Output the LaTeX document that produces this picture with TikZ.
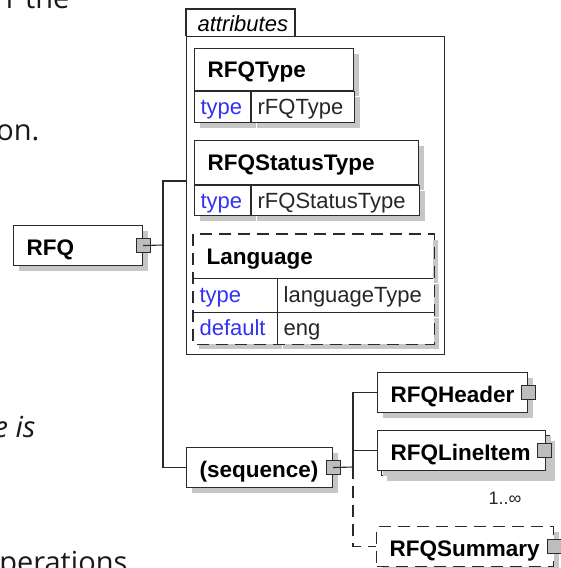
\documentclass[tikz,border=0pt]{standalone}
\usepackage{fontspec}
\setmainfont{Liberation Sans}
\newfontfamily\docfont{Open Sans}
\usetikzlibrary{positioning,shadows}
\definecolor{edge}{HTML}{2A2A2A}
\definecolor{shade}{HTML}{C6C6C6}
\definecolor{boxgray}{HTML}{BDBDBD}
\definecolor{keyblue}{HTML}{3232F0}

\begin{document}
\begin{tikzpicture}[x=1pt,y=-1pt,line width=1.1pt,
 shd/.style={drop shadow={shadow xshift=5pt,shadow yshift=-5pt,fill=shade,opacity=1}},
 el/.style={draw=edge,fill=white,shd,anchor=north west,align=left,inner xsep=13pt,
 inner ysep=0pt,minimum height=40pt,text height=24pt,text depth=4pt,
 font=\fontsize{22.5}{26}\selectfont\bfseries},
 hd/.style={el,text height=21pt,text depth=5pt},
 cell/.style={draw=edge,fill=white,shd,anchor=north west,align=left,inner xsep=6pt,
 inner ysep=0pt,minimum height=31pt,text height=20pt,text depth=5pt,
 font=\fontsize{22}{25}\selectfont,text=black!85},
 key/.style={cell,text=keyblue},
 sq/.style={draw=edge,fill=boxgray,minimum size=14pt,inner sep=0pt,line width=1pt},
 ln/.style={draw=edge},
 dsh/.style={dash pattern=on 12pt off 7pt},
 frag/.style={inner sep=0pt,anchor=base east,font=\docfont\fontsize{29}{34}\selectfont,text=black!90}]
 \useasboundingbox (0,0) rectangle (561,568);
 % cut-off text of the page around the figure
 \node[frag] (f1) at (70,8) {r the};
 \node[frag] (f2) at (40,140) {on.};
 \node[frag,font=\docfont\itshape\fontsize{29}{34}\selectfont] (f3) at (36,437) {e is};
 \node[frag] (f4) at (128,572) {operations};
 % root element
 \node[el,text width=103pt] (rfq) at (13,225) {RFQ};
 \node[sq] (rfq-c) at (rfq.east) {};
 % attributes group
 \node[draw=edge,anchor=north west,minimum width=258pt,minimum height=318pt] (attrs) at (186,36) {};
 \draw[ln] (attrs.north west) -- (186,9) -- (295,9) -- (295,36);
 \node[inner sep=0pt,anchor=base west,font=\fontsize{22}{25}\selectfont\itshape] (attr) at (197,31) {attributes};
 \node[hd,minimum height=42pt,text width=133pt] (rt) at (194,48) {RFQType};
 \node[key,text width=44pt] (rt-k) at (rt.south west) {type};
 \node[cell,text width=91pt] (rt-v) at (rt-k.north east) {rFQType};
 \node[hd,minimum height=44pt,text width=198pt] (rs) at (194,140) {RFQStatusType};
 \node[key,minimum height=30pt,text width=44pt] (rs-k) at (rs.south west) {type};
 \node[cell,minimum height=30pt,text width=156pt] (rs-v) at (rs-k.north east) {rFQStatusType};
 \node[hd,draw=none,minimum height=43pt,text width=213pt] (lg) at (193,234) {Language};
 \node[key,draw=none,minimum height=33pt,text width=71pt] (lg-k1) at (lg.south west) {type};
 \node[cell,draw=none,minimum height=33pt,text width=144pt] (lg-v1) at (lg-k1.north east) {languageType};
 \node[key,draw=none,text width=71pt] (lg-k2) at (lg-k1.south west) {default};
 \node[cell,draw=none,text width=144pt] (lg-v2) at (lg-k2.north east) {eng};
 \draw[ln,dsh] (lg.north west) rectangle (lg-v2.south east);
 \draw[ln] (lg.south west) -- (lg.south east);
 \draw[ln] (lg-k1.south west) -- (lg-v1.south east);
 \draw[ln] (lg-k1.north east) -- (lg-k2.south east);
 % content model
 \node[el,text width=120pt] (seq) at (186,447) {(sequence)};
 \node[sq] (seq-c) at (seq.east) {};
 \node[el,text width=124pt] (hdr) at (377,372) {RFQHeader};
 \node[sq] (hdr-c) at (hdr.east) {};
 \node[el,text width=142pt] (li-b) at (381,435) {};
 \node[el,text width=142pt] (li) at (377,430) {RFQLineItem};
 \node[sq] (li-c) at ([xshift=-2pt]li.east) {};
 \node[font=\fontsize{18}{20}\selectfont,text=black!85,inner sep=0pt] (li-m) at (505,498) {1..∞};
 \node[el,dsh,text width=151pt] (sum) at (376,526) {RFQSummary};
 \node[sq] (sum-c) at (sum.east) {};
 % connectors
 \coordinate (j1) at (163,245);
 \coordinate (attrs-in) at (186,181);
 \coordinate (j2) at (353,467);
 \draw[ln] (rfq-c.center) -- (j1);
 \draw[ln] (j1) |- (attrs-in);
 \draw[ln] (j1) |- (seq.west);
 \draw[ln] (seq-c.center) -- (j2);
 \draw[ln] (j2) |- (hdr.west);
 \draw[ln] (j2) |- (li.west);
 \draw[ln,dsh] (j2) |- (sum.west);
\end{tikzpicture}
\end{document}
